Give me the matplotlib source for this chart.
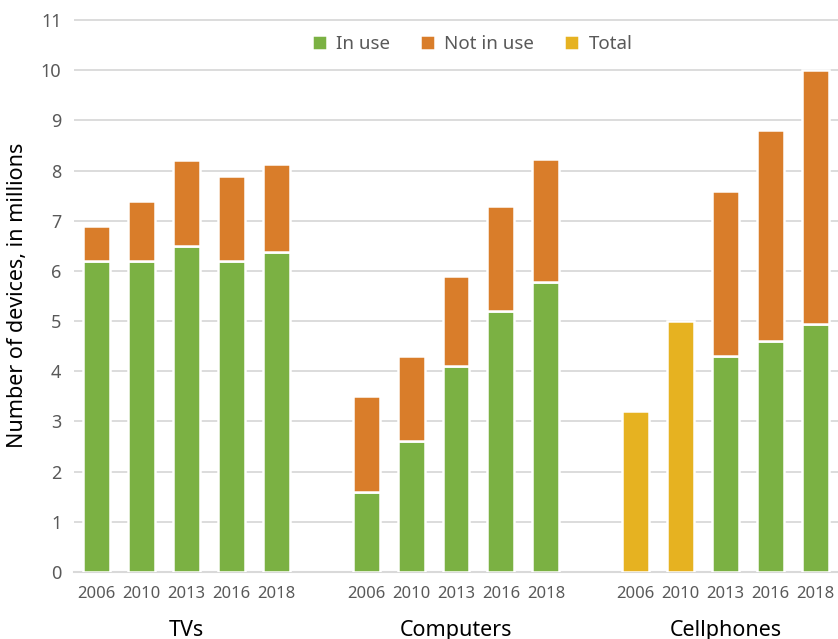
import numpy as np
import matplotlib.pyplot as plt

plt.rcParams['font.family'] = ['Noto Sans', 'DejaVu Sans']

years = ["2006", "2010", "2013", "2016", "2018"]
groups = ["TVs", "Computers", "Cellphones"]

tv_in_use = [6.2, 6.2, 6.5, 6.2, 6.38]
tv_not_in_use = [0.7, 1.2, 1.7, 1.7, 1.75]
pc_in_use = [1.6, 2.6, 4.1, 5.2, 5.78]
pc_not_in_use = [1.9, 1.7, 1.8, 2.1, 2.44]
cell_in_use = [np.nan, np.nan, 4.3, 4.6, 4.95]
cell_not_in_use = [np.nan, np.nan, 3.3, 4.2, 5.05]
cell_total = [3.2, 5.0, np.nan, np.nan, np.nan]

green = "#7BB143"
orange = "#D97D2A"
yellow = "#E6B221"
grey_text = "#595959"

fig = plt.figure(figsize=(8.38, 6.39), dpi=100)
ax = fig.add_axes([0.0883, 0.1049, 0.9117, 0.8654])

n = len(years)
starts = [0, 6, 12]
in_use = [tv_in_use, pc_in_use, cell_in_use]
not_in_use = [tv_not_in_use, pc_not_in_use, cell_not_in_use]
totals = [[np.nan] * n, [np.nan] * n, cell_total]

w = 0.6
kw = dict(width=w, edgecolor="white", linewidth=1.8, zorder=3)
xticks, xlabels = [], []
for g, s in enumerate(starts):
    x = s + np.arange(n)
    iu = np.array(in_use[g], dtype=float)
    nu = np.array(not_in_use[g], dtype=float)
    tot = np.array(totals[g], dtype=float)
    ax.bar(x, iu, color=green, label="In use" if g == 0 else None, **kw)
    ax.bar(x, nu, bottom=iu, color=orange, label="Not in use" if g == 0 else None, **kw)
    ax.bar(x, tot, color=yellow, label="Total" if g == 2 else None, **kw)
    xticks += list(x)
    xlabels += years
    ax.text(s + (n - 1) / 2, -0.105, groups[g], transform=ax.get_xaxis_transform(),
            ha="center", va="center", fontsize=15.5, color="black")

ax.set_xlim(-0.5, 16.5)
ax.set_ylim(0, 11.02)
ax.set_yticks(range(0, 12))
ax.set_xticks(xticks)
ax.set_xticklabels(xlabels)
ax.tick_params(axis="y", length=0, pad=9, labelsize=13, labelcolor=grey_text)
ax.tick_params(axis="x", length=0, pad=10, labelsize=12, labelcolor=grey_text)
ax.grid(axis="y", color="#D9D9D9", linewidth=1.3, zorder=0)
ax.set_axisbelow(True)
for sp in ["top", "right", "left"]:
    ax.spines[sp].set_visible(False)
ax.spines["bottom"].set_color("#D9D9D9")
ax.spines["bottom"].set_linewidth(1.5)

ax.set_ylabel("Number of devices, in millions", fontsize=15.5, color="black", labelpad=9)

ax.legend(loc="center", bbox_to_anchor=(472 / 838, 1 - 44 / 639),
          bbox_transform=fig.transFigure, ncol=3, frameon=False, fontsize=13.5,
          labelcolor=grey_text, handlelength=0.8, handleheight=0.8,
          handletextpad=0.5, columnspacing=1.6)

fig.savefig("out.png", dpi=100)
